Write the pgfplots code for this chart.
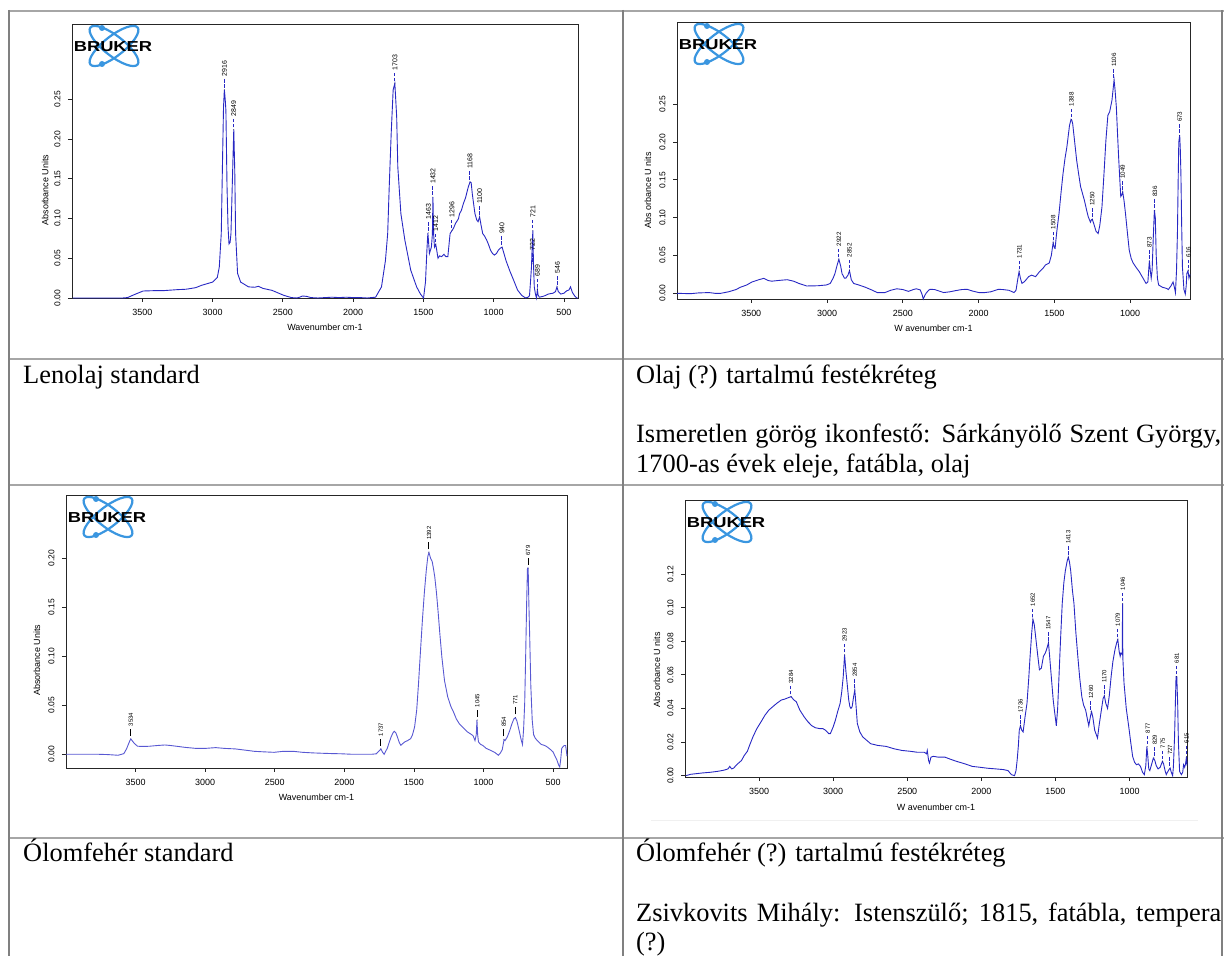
\documentclass[border=0pt]{standalone}
\usepackage{fontspec}
\setmainfont{Liberation Serif}
\setsansfont{Liberation Sans}
\usepackage{graphicx}
\usepackage{pgfplots}
\pgfplotsset{compat=1.18}

\definecolor{specblue}{RGB}{40,40,195}
\definecolor{speclight}{RGB}{88,88,210}
\definecolor{logoblue}{RGB}{58,150,224}
\definecolor{tabline}{RGB}{166,166,166}

% peak labels: dashed blue tick, or a short black tick (plot 3)
\newcommand{\pkd}[1]{\hspace*{2bp}{\color{specblue}\rule[0.33em]{3.5bp}{0.7bp}\hspace*{1.5bp}\rule[0.33em]{3.5bp}{0.7bp}}\hspace*{2.5bp}#1}
\newcommand{\pks}[1]{\hspace*{3bp}\rule[0.33em]{7bp}{0.6bp}\hspace*{2.5bp}#1}
\newcommand{\capfont}{\fontsize{26.5}{30}\selectfont}

\newcommand{\logo}[1]{%
  \begin{scope}[shift={(#1.north west)}]
    \draw[logoblue, line width=2.2bp, rotate around={38:(42bp,-22bp)}] (42bp,-22bp) ellipse [x radius=30bp, y radius=10bp];
    \draw[logoblue, line width=2.2bp, rotate around={-38:(42bp,-22bp)}] (42bp,-22bp) ellipse [x radius=30bp, y radius=10bp];
    \fill[logoblue] (30bp,-4bp) circle (3bp) (30bp,-40bp) circle (3bp);
    \node[inner sep=0pt, font=\sffamily\bfseries\fontsize{14.5}{14.5}\selectfont] at (41bp,-22.5bp) {\scalebox{1.27}[1]{BRUKER}};
  \end{scope}}

\pgfplotsset{
  spec/.style={scale only axis, anchor=south west, x dir=reverse, clip=false,
    axis line style={black!85, line width=0.7bp},
    tick align=outside, tick pos=left, major tick length=4bp,
    tick style={black!85, line width=0.7bp},
    scaled x ticks=false, scaled y ticks=false,
    /pgf/number format/assume math mode=true,
    /pgf/number format/1000 sep={},
    xticklabel style={font=\sffamily\fontsize{9}{10}\selectfont},
    yticklabel style={font=\sffamily\fontsize{8.5}{10}\selectfont, rotate=90, anchor=south,
      /pgf/number format/fixed, /pgf/number format/fixed zerofill, /pgf/number format/precision=2},
    xticklabel shift=4bp, yticklabel shift=4bp},
  pk/.style={only marks, mark=*, mark size=0.01pt, mark options={draw=none, fill=none},
    point meta=explicit symbolic,
    nodes near coords style={rotate=90, anchor=west, inner sep=0pt, text=black,
      font=\sffamily\fontsize{#1}{#1}\selectfont}},
  curve/.style={color=#1, line width=0.9bp, mark=none},
}

\begin{document}
\begin{tikzpicture}
\useasboundingbox (0,0) rectangle (1224bp,956bp);

% ---- table rules
\draw[tabline, line width=2bp] (8bp,945bp) -- (1224bp,945bp);
\draw[tabline, line width=2bp] (8bp,597bp) -- (1224bp,597bp);
\draw[tabline, line width=2bp] (8bp,471bp) -- (1224bp,471bp);
\draw[tabline, line width=2bp] (8bp,118bp) -- (1224bp,118bp);
\draw[black!50, line width=2bp] (9bp,946bp) -- (9bp,0bp);
\draw[black!50, line width=2bp] (623bp,946bp) -- (623bp,0bp);
\draw[black!50, line width=2bp] (1222bp,946bp) -- (1222bp,0bp);
\draw[black!6, line width=0.6bp] (651bp,136bp) -- (1198bp,136bp);

% ---- Lenolaj standard
\begin{axis}[spec, name=p1, at={(72bp,658bp)}, width=506bp, height=274bp,
  xmin=400, xmax=4000, ymin=0, ymax=0.3447,
  xtick={500,1000,...,3500}, ytick={0,0.05,...,0.25}]
\addplot[curve=specblue] coordinates {
(3996,0)(3800,0)(3640,0)(3605,0.0005)(3560,0.004)(3494,0.0088)(3420,0.0092)(3355,0.0092)(3250,0.0105)
(3189,0.011)(3120,0.013)(3077,0.016)(3000,0.02)(2966,0.026)(2952,0.039)(2938,0.081)(2930,0.163)(2922,0.24)
(2916,0.262)(2910,0.25)(2905,0.236)(2897,0.14)(2890,0.09)(2883,0.068)(2875,0.07)(2869,0.081)(2860,0.14)
(2855,0.173)(2849,0.212)(2842,0.16)(2836,0.081)(2822,0.031)(2800,0.02)(2744,0.014)(2700,0.0135)(2674,0.0147)
(2640,0.012)(2577,0.0096)(2494,0.0034)(2439,0.0005)(2400,0)(2380,0.001)(2360,0.0025)(2330,0.002)(2300,0.0005)
(2250,0)(2200,0.0005)(2150,0.001)(2100,0.0005)(2050,0.001)(2000,0.0005)(1950,0.0005)(1900,0)(1840,0.001)
(1798,0.014)(1770,0.047)(1754,0.081)(1743,0.14)(1729,0.207)(1715,0.262)(1703,0.27)(1690,0.228)(1682,0.165)
(1660,0.106)(1632,0.073)(1590,0.035)(1548,0.014)(1521,0.005)(1499,0)(1485,0.02)(1475,0.06)(1468,0.082)
(1457,0.056)(1443,0.064)(1436,0.08)(1432,0.127)(1427,0.08)(1421,0.064)(1412,0.0675)(1405,0.06)(1396,0.05)
(1385,0.053)(1370,0.052)(1354,0.055)(1340,0.052)(1326,0.052)(1310,0.081)(1296,0.085)(1285,0.088)(1271,0.094)
(1260,0.097)(1250,0.1)(1243,0.106)(1230,0.11)(1215,0.119)(1200,0.126)(1193,0.131)(1180,0.14)(1168,0.146)
(1160,0.145)(1152,0.131)(1140,0.115)(1133,0.106)(1120,0.098)(1111,0.096)(1100,0.102)(1090,0.092)(1078,0.081)
(1065,0.078)(1050,0.073)(1036,0.067)(1022,0.06)(1008,0.056)(995,0.054)(980,0.056)(967,0.06)(950,0.063)
(940,0.064)(930,0.058)(912,0.047)(885,0.034)(857,0.022)(830,0.01)(801,0.0034)(773,0)(755,0.001)(745,0.003)
(738,0.02)(731,0.039)(725,0.07)(721,0.085)(717,0.045)(711,0.014)(703,0.005)(695,0)(689,0.0105)(684,0.004)
(675,0.001)(650,0.002)(634,0.003)(610,0.005)(578,0.006)(560,0.008)(550,0.014)(540,0.008)(522,0.005)(500,0.006)
(481,0.009)(465,0.01)(453,0.014)(440,0.007)(425,0.003)(410,0)(400,0)};
\addplot[pk=7, nodes near coords={\pkd{\pgfplotspointmeta}}] coordinates {
(2916,0.262)[2916] (2849,0.212)[2849] (1703,0.27)[1703] (1463,0.082)[1463] (1432,0.127)[1432]
(1412,0.0675)[1412] (1296,0.085)[1296] (1168,0.146)[1168] (1100,0.102)[1100] (940,0.064)[940]
(721,0.085)[721] (724,0.043)[722] (689,0.0105)[689] (546,0.014)[546]};
\node[rotate=90, font=\sffamily\fontsize{9}{10}\selectfont] at (axis description cs:-0.053,0.394) {Absorbance Units};
\node[font=\sffamily\fontsize{9}{10}\selectfont, yshift=-29bp] at (axis description cs:0.5,0) {Wavenumber cm-1};
\end{axis}
\logo{p1}

% ---- Olaj (?) tartalmú festékréteg
\begin{axis}[spec, name=p2, at={(677bp,657bp)}, width=513bp, height=277bp,
  xmin=605, xmax=3990, ymin=-0.0075, ymax=0.3586,
  xtick={1000,1500,...,3500}, ytick={0,0.05,...,0.25}]
\addplot[curve=specblue] coordinates {
(3990,0)(3900,-0.0005)(3850,0.0005)(3779,0.001)(3740,0)(3701,0)(3650,0.002)(3600,0.005)(3572,0.008)
(3530,0.011)(3495,0.015)(3450,0.018)(3417,0.0198)(3390,0.017)(3366,0.016)(3320,0.017)(3263,0.018)(3220,0.016)
(3185,0.013)(3134,0.0097)(3060,0.01)(3005,0.011)(2979,0.013)(2960,0.02)(2948,0.026)(2935,0.036)(2922,0.045)
(2910,0.036)(2901,0.026)(2885,0.02)(2876,0.02)(2862,0.024)(2852,0.03)(2840,0.018)(2824,0.013)(2790,0.011)
(2747,0.008)(2700,0.004)(2669,0.001)(2618,0.001)(2580,0.004)(2540,0.006)(2500,0.005)(2463,0.0026)(2430,0.005)
(2411,0.006)(2385,0.0045)(2372,-0.002)(2365,-0.0075)(2355,-0.003)(2347,0)(2330,0.004)(2321,0.0053)(2290,0.005)
(2260,0.003)(2231,0.001)(2190,0.002)(2153,0.0035)(2110,0.005)(2076,0.0053)(2040,0.003)(1998,0.001)(1960,0.001)
(1920,0.002)(1869,0.0053)(1840,0.005)(1800,0.004)(1766,0.001)(1753,0.004)(1742,0.018)(1733,0.0286)(1724,0.02)
(1714,0.0132)(1700,0.015)(1688,0.0176)(1670,0.022)(1650,0.024)(1624,0.022)(1598,0.0286)(1575,0.033)(1559,0.0374)
(1534,0.04)(1520,0.05)(1508,0.067)(1500,0.06)(1495,0.0594)(1485,0.08)(1469,0.106)(1455,0.135)(1443,0.158)
(1430,0.178)(1417,0.194)(1400,0.222)(1390,0.23)(1385,0.229)(1379,0.224)(1366,0.2)(1353,0.176)(1340,0.158)
(1327,0.141)(1302,0.123)(1285,0.108)(1276,0.101)(1262,0.094)(1256,0.097)(1250,0.098)(1240,0.092)(1225,0.082)
(1211,0.079)(1200,0.09)(1186,0.114)(1172,0.16)(1160,0.202)(1147,0.235)(1135,0.24)(1120,0.255)(1106,0.282)
(1100,0.27)(1091,0.246)(1083,0.21)(1076,0.18)(1068,0.15)(1062,0.128)(1055,0.13)(1049,0.134)(1040,0.122)
(1031,0.106)(1018,0.08)(1006,0.057)(993,0.046)(980,0.04)(960,0.034)(941,0.029)(915,0.02)(895,0.013)(883,0.015)
(876,0.035)(873,0.043)(867,0.03)(861,0.02)(855,0.03)(848,0.07)(840,0.11)(834,0.1)(828,0.05)(820,0.02)(812,0.011)
(787,0.008)(760,0.0065)(748,0.005)(730,0.01)(717,0.015)(708,0.008)(701,0.001)(694,0.03)(688,0.079)(683,0.15)
(679,0.2)(673,0.209)(669,0.19)(665,0.158)(660,0.09)(655,0.035)(645,0.005)(636,-0.001)(630,0.01)(626,0.026)
(618,0.03)(612,0.02)(605,0.025)};
\addplot[pk=6.3, nodes near coords={\pkd{\pgfplotspointmeta}}] coordinates {
(2922,0.045)[2922] (2852,0.03)[2852] (1731,0.0286)[1731] (1508,0.067)[1508] (1388,0.23)[1388]
(1250,0.098)[1250] (1106,0.282)[1106] (1049,0.134)[1049] (873,0.043)[873] (836,0.11)[836]
(673,0.209)[673] (616,0.03)[616]};
\node[rotate=90, font=\sffamily\fontsize{9}{10}\selectfont] at (axis description cs:-0.0565,0.393) {Abs orbance U nits};
\node[font=\sffamily\fontsize{9}{10}\selectfont, yshift=-29bp] at (axis description cs:0.5,0) {W avenumber cm-1};
\end{axis}
\logo{p2}

% ---- Ólomfehér standard
\begin{axis}[spec, name=p3, at={(66bp,188bp)}, width=501bp, height=273bp,
  xmin=400, xmax=4000, ymin=-0.014, ymax=0.2647,
  xtick={500,1000,...,3500}, ytick={0,0.05,...,0.20}]
\addplot[curve=speclight] coordinates {
(4000,0)(3900,0)(3766,0)(3700,-0.0003)(3626,-0.001)(3600,0)(3584,0.0007)(3564,0.0058)(3542,0.0136)(3534,0.0157)
(3520,0.013)(3508,0.011)(3486,0.0082)(3440,0.008)(3402,0.0082)(3340,0.009)(3290,0.0095)(3250,0.009)(3206,0.0082)
(3140,0.007)(3065,0.006)(3000,0.006)(2925,0.0068)(2860,0.006)(2785,0.0055)(2700,0.004)(2645,0.003)(2580,0.0025)
(2505,0.002)(2440,0.003)(2365,0.003)(2300,0.002)(2224,0.0014)(2150,0.001)(2084,0.0007)(2020,0.0005)(1944,0)
(1880,0)(1804,0)(1770,0.0005)(1753,0.003)(1737,0.0055)(1725,0.002)(1714,0)(1700,0.004)(1692,0.0058)(1678,0.012)
(1664,0.0177)(1650,0.022)(1641,0.0235)(1630,0.022)(1622,0.019)(1605,0.012)(1594,0.0092)(1580,0.011)(1566,0.0126)
(1545,0.014)(1523,0.016)(1510,0.02)(1495,0.028)(1480,0.045)(1467,0.072)(1453,0.105)(1439,0.137)(1425,0.165)
(1411,0.188)(1400,0.202)(1392,0.206)(1380,0.2)(1369,0.197)(1360,0.19)(1350,0.181)(1338,0.165)(1327,0.147)
(1313,0.122)(1299,0.099)(1280,0.075)(1257,0.0586)(1235,0.049)(1215,0.043)(1195,0.036)(1173,0.031)(1145,0.027)
(1117,0.023)(1095,0.021)(1075,0.019)(1061,0.014)(1052,0.02)(1047,0.035)(1042,0.02)(1036,0.0125)(1020,0.01)
(1005,0.009)(980,0.006)(949,0.004)(920,0.002)(893,-0.001)(880,0.001)(865,0.0048)(856,0.012)(852,0.015)(845,0.014)
(829,0.0177)(812,0.024)(796,0.031)(782,0.036)(771,0.0375)(760,0.034)(750,0.028)(739,0.021)(728,0.014)(720,0.01)
(712,0.025)(704,0.052)(697,0.1)(690,0.154)(684,0.19)(679,0.19)(674,0.154)(668,0.12)(660,0.07)(650,0.035)
(640,0.02)(626,0.016)(600,0.012)(584,0.01)(560,0.009)(542,0.0075)(520,0.005)(500,0.0024)(486,-0.002)(472,-0.006)
(460,-0.011)(452,-0.013)(445,-0.005)(438,0.006)(430,0.0075)(420,0.009)(410,0.009)(404,0.003)(400,-0.002)};
\addplot[pk=6, nodes near coords={\pks{\pgfplotspointmeta}}] coordinates {
(3534,0.0157)[3534] (1737,0.0055)[1737] (1392,0.206)[1392] (1045,0.035)[1045]
(854,0.015)[854] (771,0.0375)[771] (679,0.19)[679]};
\node[rotate=90, font=\sffamily\fontsize{9}{10}\selectfont] at (axis description cs:-0.058,0.395) {Absorbance Units};
\node[font=\sffamily\fontsize{9}{10}\selectfont, yshift=-29bp] at (axis description cs:0.5,0) {Wavenumber cm-1};
\end{axis}
\logo{p3}

% ---- Ólomfehér (?) tartalmú festékréteg
\begin{axis}[spec, name=p4, at={(685bp,179bp)}, width=502bp, height=277bp,
  xmin=612, xmax=4000, ymin=-0.0008, ymax=0.164,
  xtick={1000,1500,...,3500}, ytick={0,0.02,...,0.12}]
\addplot[curve=specblue] coordinates {
(3994,0)(3962,0.0008)(3883,0.0016)(3830,0.002)(3777,0.0026)(3740,0.0032)(3724,0.0036)(3710,0.004)(3698,0.0055)
(3685,0.004)(3672,0.0045)(3645,0.007)(3619,0.009)(3600,0.012)(3579,0.0145)(3560,0.019)(3540,0.0234)(3515,0.028)
(3487,0.032)(3460,0.036)(3434,0.039)(3408,0.041)(3381,0.043)(3350,0.045)(3328,0.0455)(3300,0.0465)(3284,0.047)
(3265,0.045)(3249,0.044)(3225,0.039)(3196,0.035)(3170,0.032)(3144,0.0297)(3120,0.0285)(3091,0.028)(3070,0.028)
(3051,0.027)(3030,0.025)(3019,0.025)(3000,0.029)(2985,0.033)(2970,0.038)(2953,0.043)(2942,0.05)(2932,0.059)
(2923,0.072)(2914,0.062)(2906,0.055)(2895,0.045)(2887,0.041)(2880,0.04)(2872,0.041)(2862,0.047)(2854,0.051)
(2846,0.042)(2837,0.031)(2820,0.026)(2800,0.023)(2747,0.019)(2700,0.018)(2642,0.0174)(2590,0.016)(2536,0.015)
(2480,0.0145)(2431,0.0139)(2385,0.0139)(2370,0.013)(2365,0.015)(2356,0.009)(2350,0.0075)(2340,0.011)(2325,0.0115)
(2290,0.011)(2246,0.011)(2200,0.0095)(2167,0.0085)(2110,0.007)(2061,0.0055)(2010,0.005)(1956,0.0044)(1900,0.004)
(1850,0.0036)(1820,0.003)(1797,0.0006)(1776,0)(1766,0.003)(1758,0.0095)(1750,0.018)(1744,0.027)(1736,0.0297)
(1727,0.027)(1718,0.026)(1705,0.035)(1692,0.043)(1680,0.058)(1671,0.071)(1660,0.085)(1652,0.093)(1643,0.09)
(1634,0.083)(1620,0.072)(1608,0.063)(1595,0.064)(1581,0.071)(1568,0.073)(1560,0.075)(1547,0.079)(1540,0.072)
(1528,0.059)(1515,0.045)(1507,0.039)(1494,0.0297)(1485,0.04)(1476,0.059)(1466,0.08)(1454,0.1025)(1443,0.115)
(1433,0.122)(1420,0.128)(1413,0.13)(1405,0.127)(1397,0.122)(1385,0.11)(1375,0.1025)(1362,0.085)(1349,0.071)
(1336,0.058)(1322,0.047)(1310,0.042)(1296,0.039)(1285,0.034)(1275,0.0297)(1262,0.036)(1256,0.038)(1248,0.035)
(1235,0.027)(1216,0.0224)(1205,0.03)(1190,0.039)(1178,0.046)(1170,0.0475)(1160,0.043)(1148,0.04)(1136,0.048)
(1124,0.059)(1112,0.068)(1098,0.075)(1087,0.079)(1079,0.081)(1070,0.074)(1063,0.071)(1058,0.073)(1049,0.072)
(1047,0.1025)(1045,0.07)(1037,0.055)(1022,0.04)(1005,0.029)(992,0.02)(979,0.0115)(966,0.008)(953,0.0065)
(940,0.007)(926,0.0055)(912,0.002)(900,0.0006)(890,0.006)(883,0.0174)(877,0.012)(870,0.004)(863,0.003)
(850,0.007)(839,0.0105)(829,0.009)(820,0.006)(807,0.004)(793,0.005)(778,0.0085)(770,0.007)(760,0.003)
(752,0.0006)(738,0.003)(726,0.0045)(718,0.002)(709,0)(704,0.005)(696,0.023)(690,0.045)(686,0.059)(681,0.059)
(675,0.043)(670,0.02)(662,0.0025)(650,0.0006)(641,0.002)(635,0.0065)(628,0.005)(622,0.007)(615,0.0115)(612,0.006)};
\addplot[pk=6, nodes near coords={\pkd{\pgfplotspointmeta}}] coordinates {
(3284,0.047)[3284] (2923,0.072)[2923] (2854,0.051)[2854] (1736,0.0297)[1736] (1652,0.093)[1652]
(1547,0.079)[1547] (1413,0.13)[1413] (1260,0.038)[1260] (1170,0.0475)[1170] (1079,0.081)[1079]
(1046,0.1025)[1046] (877,0.0174)[877] (829,0.0105)[829] (775,0.0085)[775] (727,0.0045)[727]
(681,0.059)[681] (615,0.0115)[615]};
\node[rotate=90, font=\sffamily\fontsize{9}{10}\selectfont] at (axis description cs:-0.056,0.386) {Abs orbance U nits};
\node[font=\sffamily\fontsize{9}{10}\selectfont, yshift=-30bp] at (axis description cs:0.5,0) {W avenumber cm-1};
\end{axis}
\logo{p4}

% ---- captions
\node[anchor=base west, inner sep=0pt, font=\capfont] at (23bp,572bp) {Lenolaj standard};
\node[anchor=base west, inner sep=0pt, font=\capfont] at (636bp,572bp) {Olaj (?) tartalmú festékréteg};
\node[anchor=base west, inner sep=0pt, font=\capfont] at (636bp,513bp) {\makebox[585bp][s]{Ismeretlen görög ikonfestő: Sárkányölő Szent György,}};
\node[anchor=base west, inner sep=0pt, font=\capfont] at (636bp,483bp) {1700-as évek eleje, fatábla, olaj};
\node[anchor=base west, inner sep=0pt, font=\capfont] at (23bp,94bp) {Ólomfehér standard};
\node[anchor=base west, inner sep=0pt, font=\capfont] at (636bp,94bp) {Ólomfehér (?) tartalmú festékréteg};
\node[anchor=base west, inner sep=0pt, font=\capfont] at (636bp,35bp) {\makebox[585bp][s]{Zsivkovits Mihály: Istenszülő; 1815, fatábla, tempera}};
\node[anchor=base west, inner sep=0pt, font=\capfont] at (636bp,6bp) {(?)};
\end{tikzpicture}
\end{document}
